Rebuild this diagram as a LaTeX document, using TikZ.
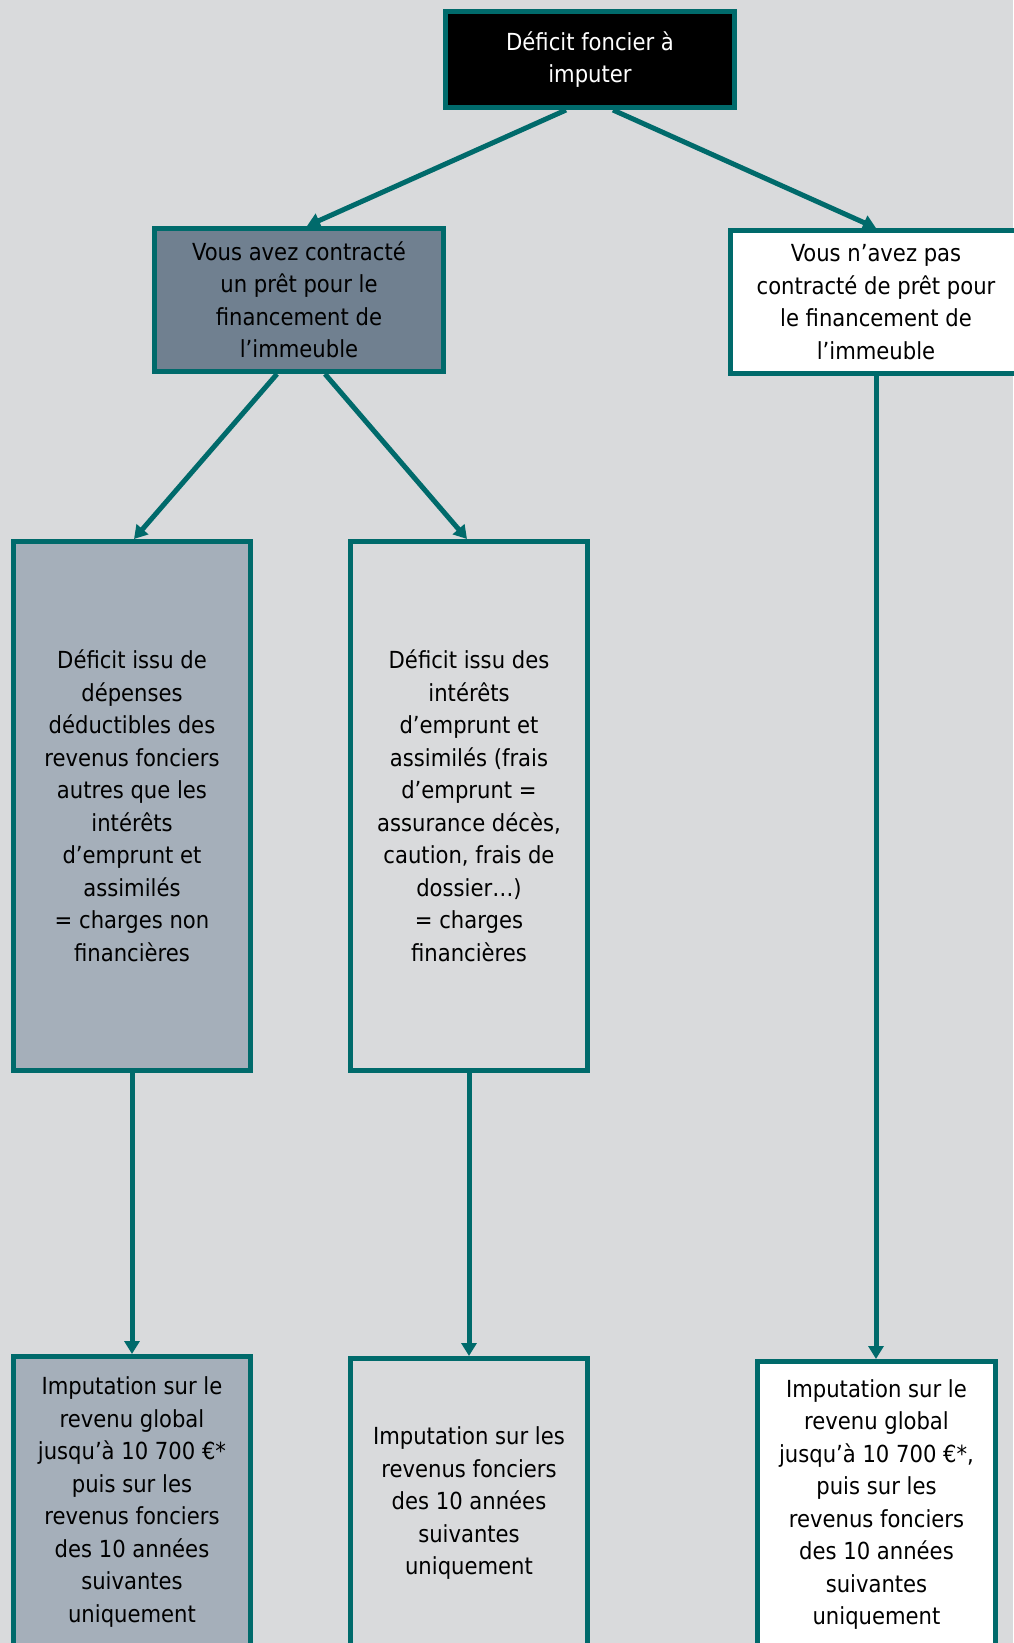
\documentclass[tikz,border=0pt]{standalone}
\usepackage{fontspec}
\setmainfont{DejaVu Sans Condensed}
\usetikzlibrary{arrows.meta,calc}
\definecolor{bgc}{HTML}{D9DADC}
\definecolor{teal1}{HTML}{006A6B}
\definecolor{slate}{HTML}{708090}
\definecolor{lightslate}{HTML}{A5AFBA}
\begin{document}
\begin{tikzpicture}[x=1pt,y=-1pt,
  box/.style={draw=teal1,line width=5pt,rectangle,align=center,inner sep=0pt,
    font=\fontsize{23.5}{32.5}\selectfont},
  conn/.style={draw=teal1,line width=5pt,-{Triangle[width=15pt,length=13pt]}}]
\fill[bgc] (0,0) rectangle (1013,1643);
\useasboundingbox (0,0) rectangle (1013,1643);
\node[box,fill=black,text=white,minimum width=289pt,minimum height=96pt] (top) at (590,59.5) {Déficit foncier à\\imputer};
\node[box,fill=slate,minimum width=289pt,minimum height=143pt] (b2) at (299,300) {Vous avez contracté\\un prêt pour le\\financement de\\l’immeuble};
\node[box,fill=white,minimum width=291pt,minimum height=143pt] (b3) at (876,302) {Vous n’avez pas\\contracté de prêt pour\\le financement de\\l’immeuble};
\node[box,fill=lightslate,minimum width=237pt,minimum height=529pt] (b4) at (132,806) {Déficit issu de\\dépenses\\déductibles des\\revenus fonciers\\autres que les\\intérêts\\d’emprunt et\\assimilés\\= charges non\\financières};
\node[box,fill=bgc,minimum width=237pt,minimum height=529pt] (b5) at (469,806) {Déficit issu des\\intérêts\\d’emprunt et\\assimilés (frais\\d’emprunt =\\assurance décès,\\caution, frais de\\dossier…)\\= charges\\financières};
\node[box,fill=lightslate,minimum width=237pt,minimum height=291pt] (b6) at (132,1502) {Imputation sur le\\revenu global\\jusqu’à 10 700 €*\\puis sur les\\revenus fonciers\\des 10 années\\suivantes\\uniquement};
\node[box,fill=bgc,minimum width=237pt,minimum height=289pt] (b7) at (469,1503) {Imputation sur les\\revenus fonciers\\des 10 années\\suivantes\\uniquement};
\node[box,fill=white,minimum width=238pt,minimum height=286pt] (b8) at (876.5,1504.5) {Imputation sur le\\revenu global\\jusqu’à 10 700 €*,\\puis sur les\\revenus fonciers\\des 10 années\\suivantes\\uniquement};
\draw[conn] ($(top.south)+(-24,0)$) -- ($(b2.north)+(8,0)$);
\draw[conn] ($(top.south)+(23,0)$) -- (b3.north);
\draw[conn] ($(b2.south)+(-22,0)$) -- ($(b4.north)+(2,0)$);
\draw[conn] ($(b2.south)+(26,0)$) -- ($(b5.north)+(-2,0)$);
\draw[conn] (b4.south) -- (b6.north);
\draw[conn] (b5.south) -- (b7.north);
\draw[conn] (b3.south) -- (b3.south |- b8.north);
\end{tikzpicture}
\end{document}
